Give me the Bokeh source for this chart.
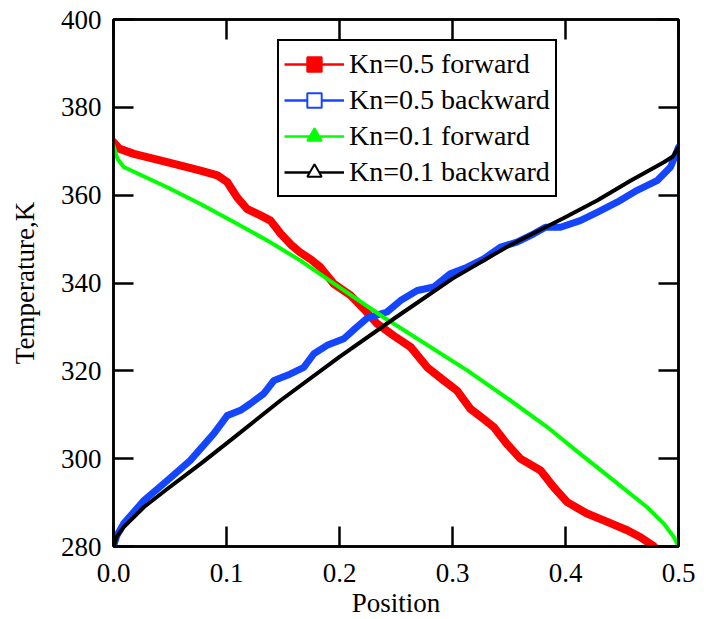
from bokeh.plotting import figure
from bokeh.models import (ColumnDataSource, FixedTicker, LinearAxis, Legend,
                          LegendItem)
from bokeh.embed import file_html
from bokeh.resources import INLINE

# Temperature profiles along the channel (position, temperature in K)
kn05_fwd_x = [0, 0.005, 0.018, 0.0475, 0.077, 0.092, 0.1006, 0.1094, 0.118,
              0.130, 0.139, 0.148, 0.158, 0.165, 0.175, 0.183, 0.195, 0.2097,
              0.2215, 0.2334, 0.248, 0.263, 0.2776, 0.2923, 0.304, 0.316,
              0.3277, 0.3365, 0.348, 0.360, 0.378, 0.3896, 0.4015, 0.419,
              0.437, 0.4546, 0.4664, 0.478]
kn05_fwd_t = [372.1, 370.6, 369.4, 367.5, 365.6, 364.5, 363.0, 359.5, 356.9,
              355.4, 354.2, 351.2, 348.5, 347.0, 345.3, 343.6, 339.8, 337.2,
              334.1, 330.7, 328.0, 325.4, 320.8, 317.8, 315.5, 311.3,
              309.0, 307.2, 303.4, 300.0, 297.3, 293.5, 290.1, 287.5,
              285.6, 283.7, 282.1, 280.1]

kn05_bwd_x = [0, 0.003, 0.009, 0.027, 0.0475, 0.068, 0.0888, 0.1006, 0.1124,
              0.121, 0.133, 0.142, 0.1566, 0.1684, 0.1773, 0.189, 0.2038,
              0.2145, 0.2245, 0.242, 0.254, 0.2688, 0.2835, 0.298, 0.313,
              0.3277, 0.3425, 0.357, 0.372, 0.3823, 0.3956, 0.413, 0.428,
              0.4457, 0.4634, 0.481, 0.493, 0.5]
kn05_bwd_t = [280.1, 282.5, 285.2, 290.5, 295.0, 299.6, 305.7, 309.8, 311.0,
              312.5, 314.8, 317.8, 319.3, 320.8, 323.9, 325.8, 327.3,
              329.8, 332.0, 333.4, 336.0, 338.3, 339.1, 342.1, 343.6,
              345.5, 348.2, 349.3, 351.2, 352.7, 352.7, 354.2, 356.1,
              358.4, 361.1, 363.3, 366.4, 370.9]

kn01_fwd_x = [0, 0.0035, 0.009, 0.0475, 0.077, 0.1065, 0.136, 0.1655, 0.2,
              0.239, 0.313, 0.351, 0.3838, 0.413, 0.4428, 0.472, 0.487,
              0.496, 0.5]
kn01_fwd_t = [371.3, 368.3, 366.4, 361.8, 358.0, 353.9, 349.7, 345.1, 339.0,
              332.2, 320.1, 313.3, 307.2, 301.1, 295.0, 289.0, 285.2,
              282.1, 280.0]

kn01_bwd_x = [0, 0.003, 0.009, 0.027, 0.0475, 0.077, 0.1065, 0.148, 0.2,
              0.25, 0.3, 0.35, 0.3985, 0.428, 0.4575, 0.487, 0.495, 0.5]
kn01_bwd_t = [280.0, 282.3, 284.4, 289.0, 293.1, 298.8, 304.8, 313.3, 323.2,
              332.2, 341.0, 348.5, 354.8, 358.8, 363.3, 367.5, 368.8, 370.9]

x_ticks = [0.0, 0.1, 0.2, 0.3, 0.4, 0.5]
x_tick_labels = ["0.0", "0.1", "0.2", "0.3", "0.4", "0.5"]
y_ticks = [280, 300, 320, 340, 360, 380, 400]
y_tick_labels = ["280", "300", "320", "340", "360", "380", "400"]

FONT = "Liberation Serif"
RED = "#ff0000"
BLUE = "#1446ff"
GREEN = "#00ff00"
BLACK = "#000000"

p = figure(frame_width=565, frame_height=527, x_range=(0, 0.5),
           y_range=(280, 400), output_backend="svg", toolbar_location=None,
           min_border_left=113, min_border_top=19, min_border_right=28,
           min_border_bottom=0)
p.background_fill_color = "white"
p.border_fill_color = "white"
p.outline_line_color = "black"
p.outline_line_width = 2.5
p.xgrid.visible = False
p.ygrid.visible = False

series = [
    (kn05_fwd_x, kn05_fwd_t, RED, 8, "square", RED, "Kn=0.5 forward"),
    (kn05_bwd_x, kn05_bwd_t, BLUE, 7, "square", "white", "Kn=0.5 backward"),
    (kn01_fwd_x, kn01_fwd_t, GREEN, 4, "triangle", GREEN, "Kn=0.1 forward"),
    (kn01_bwd_x, kn01_bwd_t, BLACK, 4, "triangle", "white", "Kn=0.1 backward"),
]

items = []
for xs, ts, color, lw, marker, fill, label in series:
    src = ColumnDataSource(dict(x=xs, t=ts))
    p.line("x", "t", source=src, line_color=color, line_width=lw,
           line_join="round", line_cap="round")
    # hidden renderers that only provide the legend key (thin line + marker)
    key_line = p.line("x", "t", source=src, line_color=color, line_width=2.5,
                      visible=False)
    key_mark = p.scatter("x", "t", source=src, marker=marker, size=16,
                         line_color=color, fill_color=fill, line_width=2,
                         visible=False)
    items.append(LegendItem(label=label, renderers=[key_line, key_mark]))

legend = Legend(items=items, location=(164, 349))
legend.click_policy = "none"
legend.label_text_font = FONT
legend.label_text_font_size = "28px"
legend.label_text_color = "black"
legend.glyph_width = 60
legend.glyph_height = 36
legend.label_height = 36
legend.spacing = 0
legend.padding = 5
legend.margin = 0
legend.label_standoff = 5
legend.border_line_color = "black"
legend.border_line_alpha = 1.0
legend.border_line_width = 2.5
legend.background_fill_color = "white"
legend.background_fill_alpha = 1.0
legend.inactive_fill_alpha = 0.0
p.add_layout(legend, "center")


def style_axis(ax, ticks, labels, show_labels=True):
    ax.ticker = FixedTicker(ticks=ticks)
    ax.axis_line_color = "black"
    ax.axis_line_width = 2.5
    ax.major_tick_line_color = "black"
    ax.major_tick_line_width = 2.5
    ax.major_tick_in = 20
    ax.major_tick_out = 0
    ax.minor_tick_line_color = None
    ax.major_label_text_font = FONT
    if show_labels:
        ax.major_label_overrides = {t: l for t, l in zip(ticks, labels)}
        ax.major_label_text_font_size = "27px"
        ax.major_label_text_color = "black"
    else:
        ax.major_label_text_font_size = "1px"
        ax.major_label_text_color = None
        ax.major_label_standoff = 0


style_axis(p.xaxis[0], x_ticks, x_tick_labels)
style_axis(p.yaxis[0], y_ticks, y_tick_labels)
p.xaxis[0].major_label_standoff = 17
p.yaxis[0].major_label_standoff = 12

p.xaxis[0].axis_label = "Position"
p.yaxis[0].axis_label = "Temperature,K"
for ax in (p.xaxis[0], p.yaxis[0]):
    ax.axis_label_text_font = FONT
    ax.axis_label_text_font_size = "27px"
    ax.axis_label_text_font_style = "normal"
    ax.axis_label_text_color = "black"
p.xaxis[0].axis_label_standoff = 3
p.yaxis[0].axis_label_standoff = 18

# mirrored ticks on the top and right edges
top_ax = LinearAxis()
right_ax = LinearAxis()
style_axis(top_ax, x_ticks, x_tick_labels, show_labels=False)
style_axis(right_ax, y_ticks, y_tick_labels, show_labels=False)
p.add_layout(top_ax, "above")
p.add_layout(right_ax, "right")

open("out.html", "w").write(file_html(p, INLINE))
